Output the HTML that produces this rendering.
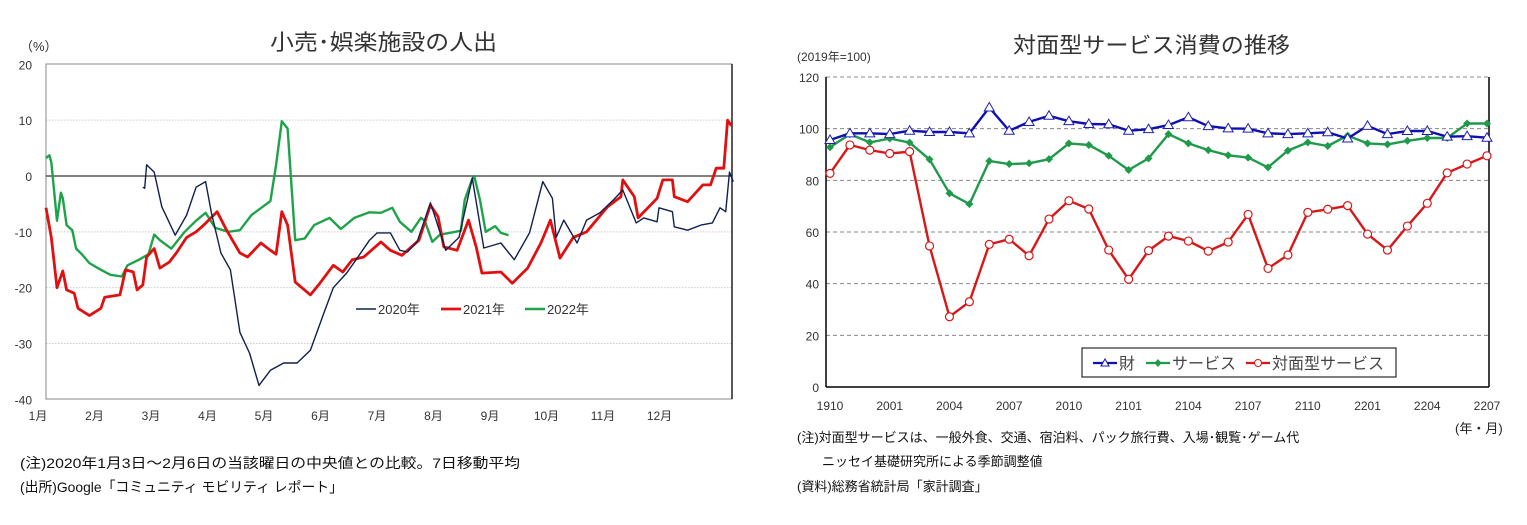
<!DOCTYPE html>
<html><head><meta charset="utf-8"><style>
body{margin:0;background:#fff;}
svg text{font-family:"Liberation Sans","Noto Sans CJK JP",sans-serif;}
</style></head><body>
<svg width="1527" height="520" viewBox="0 0 1527 520" xmlns="http://www.w3.org/2000/svg">
<g id="left"></g>
<g id="right"></g>
</svg>
<script>
// ---------- Left chart data ----------
const leftYTicks = [20,10,0,-10,-20,-30,-40];
const monthLabels = ['1月','2月','3月','4月','5月','6月','7月','8月','9月','10月','11月','12月'];
const days2020 = [55,56,57,61,65,72,78,83,88,91,96,101,106,111,116,122,129,136,143,150,155,162,167,174,178,185,190,194,199,206,209,214,221,228,234,243,250,258,265,270,272,276,283,288,295,302,307,314,318,325,326,333,334,341,348,354,358,361,363,365];
const vals2020 = [-2,-2.2,2,0.7,-5.5,-10.6,-7,-2,-1,-6.6,-13.8,-16.8,-28,-31.7,-37.5,-34.8,-33.5,-33.5,-31.2,-24.6,-20,-17.4,-15,-11.5,-10.2,-10.2,-13.3,-13.6,-11.8,-4.8,-7.9,-13.3,-11,-0.4,-12.9,-12,-15,-10.2,-1,-4,-11,-7.9,-12,-7.9,-6.6,-4.3,-2.5,-8.4,-7.5,-8.2,-5.7,-6.4,-9.1,-9.7,-8.8,-8.4,-5.7,-6.4,0.7,-1];
const days2021 = [4,7,10,13,15,19,21,27,33,35,43,46,50,52,55,57,61,64,69,73,78,83,87,94,99,106,110,117,122,125,128,131,135,143,148,155,160,165,171,180,185,191,200,206,210,213,220,226,230,233,243,249,257,264,269,274,281,288,299,306,307,313,315,325,328,333,334,341,349,353,356,360,362,364];
const vals2021 = [-5.7,-11,-20,-17,-20.4,-21,-23.7,-25,-23.7,-21.7,-21.3,-16.8,-17.2,-20.4,-19.5,-14.5,-13,-16.5,-15.4,-13.6,-11,-10,-8.8,-6.4,-9.7,-13.8,-14.5,-12,-13.3,-14,-6.4,-8.8,-19,-21.3,-19.2,-16,-17.2,-15,-14.5,-11.8,-13.3,-14.2,-11.5,-5.2,-7.3,-12.7,-13.3,-7.9,-12.7,-17.4,-17.2,-19.2,-16.5,-12,-7.9,-14.7,-11,-10,-5.5,-3.7,-0.7,-3.7,-7.5,-4,-0.7,-0.7,-3.7,-4.6,-1.6,-1.6,1.4,1.4,10,9];
const days2022 = [4,6,7,10,12,13,15,18,20,23,27,33,38,44,47,53,58,61,64,70,77,83,88,93,100,106,112,118,122,125,128,131,135,140,145,153,159,166,174,180,186,190,196,201,203,207,211,216,222,224,228,229,232,235,240,243,247];
const vals2022 = [3.2,3.7,2.5,-8,-3,-4,-8.8,-9.7,-13,-14,-15.6,-16.8,-17.7,-18,-16,-15,-14,-10.5,-11.5,-13,-10,-8,-6.6,-9.3,-10,-9.7,-7,-5.5,-4.5,2,9.8,8.5,-11.5,-11.2,-8.8,-7.5,-9.5,-7.5,-6.5,-6.6,-5.7,-8.2,-10,-7.5,-8,-11.8,-10.5,-10.2,-9.8,-4.3,-0.5,0,-4.3,-10,-9,-10.2,-10.6];

// ---------- Right chart data ----------
const rightCats = ['1910','1911','1912','2001','2002','2003','2004','2005','2006','2007','2008','2009','2010','2011','2012','2101','2102','2103','2104','2105','2106','2107','2108','2109','2110','2111','2112','2201','2202','2203','2204','2205','2206','2207'];
const rightYTicks = [0,20,40,60,80,100,120];
const goods = [95.6,98.2,98.2,97.9,99.2,98.7,98.7,98.2,108.2,99.2,102.6,105,102.9,101.8,101.7,99.2,99.8,101.4,104.4,101,100.1,100,98.2,97.9,98.2,98.6,96.2,101.1,97.9,99.1,99.1,96.9,97.1,96.5];
const services = [92.8,97.9,94.7,96.2,94.6,88.1,75,70.8,87.5,86.3,86.6,88.2,94.3,93.7,89.5,84,88.5,97.9,94.3,91.7,89.7,88.8,85,91.5,94.7,93.3,97.3,94.3,93.9,95.3,96.4,96.4,102,102];
const faceToFace = [82.7,93.7,91.7,90.4,91.1,54.6,27.2,33,55.2,57.2,50.8,65,72.1,68.9,53,41.7,52.8,58.4,56.5,52.6,56.1,66.8,45.9,51.1,67.6,68.8,70.2,59.2,53,62.3,71.1,82.9,86.3,89.5];

const NS='http://www.w3.org/2000/svg';
function mk(parent, tag, attrs, txt){
  const e=document.createElementNS(NS,tag);
  for(const k in attrs) e.setAttribute(k,attrs[k]);
  if(txt!==undefined) e.textContent=txt;
  parent.appendChild(e); return e;
}

// ---------- Left chart ----------
(function(){
  const g=document.getElementById('left');
  const X0=46,X1=732,Y0=64,Y1=399;
  const y=v=>176-v*5.583;
  const x=d=>Math.max(X0,38+d*1.905);
  let t=mk(g,'text',{x:270,y:50,'font-size':22,textLength:227,lengthAdjust:'spacingAndGlyphs',fill:'#333'},'小売･娯楽施設の人出');
   
  t=mk(g,'text',{x:20,y:51,'font-size':13,fill:'#333'},'（%）');
   
  leftYTicks.forEach(v=>{
    if(v!==0 && v!==20 && v!==-40){
      const gl=mk(g,'line',{x1:X0,x2:X1,y1:y(v),y2:y(v),stroke:'#ccc','stroke-dasharray':'1.5,1.5'});
       
    }
    const tl=mk(g,'text',{x:32,y:y(v)+5,'font-size':12,'text-anchor':'end',fill:'#333'},String(v));
     
  });
  const fr=mk(g,'rect',{x:X0,y:Y0,width:X1-X0,height:Y1-Y0,fill:'none',stroke:'#888','stroke-width':1});
   
  const rb=mk(g,'line',{x1:X1,x2:X1,y1:Y0,y2:Y1,stroke:'#222','stroke-width':1.5});
   
  const z=mk(g,'line',{x1:X0,x2:X1,y1:y(0),y2:y(0),stroke:'#000','stroke-width':1});
   
  monthLabels.forEach((m,i)=>{
    const ml=mk(g,'text',{x:38+56.5*i,y:420,'font-size':12,'text-anchor':'middle',fill:'#333'},m);
     
  });
  function series(days,vals,color,w,name){
    const p=mk(g,'polyline',{points:days.map((d,i)=>x(d).toFixed(1)+','+y(vals[i]).toFixed(1)).join(' '),fill:'none',stroke:color,'stroke-width':w,'stroke-linejoin':'round'});
     
  }
  series(days2022,vals2022,'#1fa34a',2.4,'line-2022');
  series(days2021,vals2021,'#e01010',2.8,'line-2021');
  series(days2020,vals2020,'#10204f',1.4,'line-2020');
  const leg=[['2020年','#10204f',1.4,356],['2021年','#e01010',2.8,441],['2022年','#1fa34a',2.4,525]];
  leg.forEach(l=>{
    const li=mk(g,'line',{x1:l[3],x2:l[3]+20,y1:309,y2:309,stroke:l[1],'stroke-width':l[2]});
     
    const lt=mk(g,'text',{x:l[3]+22,y:314,'font-size':13,fill:'#333'},l[0]);
     
  });
  t=mk(g,'text',{x:20,y:468,'font-size':14,textLength:500,lengthAdjust:'spacingAndGlyphs',fill:'#111'},'(注)2020年1月3日～2月6日の当該曜日の中央値との比較。7日移動平均');
   
  t=mk(g,'text',{x:20,y:492,'font-size':14,textLength:323,lengthAdjust:'spacingAndGlyphs',fill:'#111'},'(出所)Google「コミュニティ モビリティ レポート」');
   
})();

// ---------- Right chart ----------
(function(){
  const g=document.getElementById('right');
  const X0=826,X1=1489,Y0=77,Y1=387;
  const y=v=>Y1-v*(Y1-Y0)/120;
  const x=i=>830+i*(1487-830)/(rightCats.length-1);
  let t=mk(g,'text',{x:1013,y:53,'font-size':22,textLength:277,lengthAdjust:'spacingAndGlyphs',fill:'#333'},'対面型サービス消費の推移');
   
  t=mk(g,'text',{x:797,y:61,'font-size':12,fill:'#333'},'(2019年=100)');
   
  rightYTicks.forEach(v=>{
    if(v>0){
      const gl=mk(g,'line',{x1:X0,x2:X1,y1:y(v),y2:y(v),stroke:'#888','stroke-dasharray':'4,3'});
       
    }
    const tl=mk(g,'text',{x:819,y:y(v)+5,'font-size':12,'text-anchor':'end',fill:'#333'},String(v));
     
  });
  let a=mk(g,'line',{x1:X0,x2:X0,y1:Y0,y2:Y1,stroke:'#000','stroke-width':1.5});
   
  a=mk(g,'line',{x1:X1,x2:X1,y1:Y0,y2:Y1,stroke:'#000','stroke-width':1.5});
   
  a=mk(g,'line',{x1:X0,x2:X1,y1:Y1,y2:Y1,stroke:'#000','stroke-width':1.5});
   
  rightCats.forEach((c,i)=>{
    if(i%3===0){
      const tl=mk(g,'text',{x:x(i),y:410,'font-size':12,'text-anchor':'middle',fill:'#333'},c);
       
    }
  });
  function line(vals,color,name){
    const p=mk(g,'polyline',{points:vals.map((v,i)=>x(i).toFixed(1)+','+y(v).toFixed(1)).join(' '),fill:'none',stroke:color,'stroke-width':2.4,'stroke-linejoin':'round'});
     
  }
  line(faceToFace,'#d81818','face-to-face-line');
  faceToFace.forEach((v,i)=>{
    const c=mk(g,'circle',{cx:x(i),cy:y(v),r:4,fill:'#fff',stroke:'#d81818','stroke-width':1.2});
     
  });
  line(services,'#1f9a4a','services-line');
  services.forEach((v,i)=>{
    const cx=x(i),cy=y(v);
    const d=mk(g,'polygon',{points:`${cx},${cy-4} ${cx+4},${cy} ${cx},${cy+4} ${cx-4},${cy}`,fill:'#1f9a4a'});
     
  });
  line(goods,'#1010b0','goods-line');
  goods.forEach((v,i)=>{
    const cx=x(i),cy=y(v);
    const tr=mk(g,'polygon',{points:`${cx},${cy-5} ${cx+5},${cy+3.5} ${cx-5},${cy+3.5}`,fill:'#fff',stroke:'#2020b0','stroke-width':1});
     
  });
  const lb=mk(g,'rect',{x:1082,y:348,width:314,height:29,fill:'#fff',stroke:'#000','stroke-width':1});
   
  const legs=[['財','#1010b0',1093,'tri'],['サービス','#1f9a4a',1146,'dia'],['対面型サービス','#d81818',1246,'cir']];
  legs.forEach(l=>{
    const li=mk(g,'line',{x1:l[2],x2:l[2]+24,y1:363,y2:363,stroke:l[1],'stroke-width':2.2});
     
    const cx=l[2]+12;
    let m;
    if(l[3]==='tri') m=mk(g,'polygon',{points:`${cx},${359} ${cx+4},${366} ${cx-4},${366}`,fill:'#fff',stroke:l[1]});
    else if(l[3]==='dia') m=mk(g,'polygon',{points:`${cx},359 ${cx+3.5},363 ${cx},367 ${cx-3.5},363`,fill:l[1]});
    else m=mk(g,'circle',{cx:cx,cy:363,r:3.5,fill:'#fff',stroke:l[1]});
     
    const lt=mk(g,'text',{x:l[2]+26,y:369,'font-size':16,fill:'#444'},l[0]);
     
  });
  t=mk(g,'text',{x:1455,y:433,'font-size':13,fill:'#222'},'(年・月)');
   
  t=mk(g,'text',{x:797,y:442,'font-size':13,fill:'#111'},'(注)対面型サービスは、一般外食、交通、宿泊料、パック旅行費、入場･観覧･ゲーム代');
   
  t=mk(g,'text',{x:822,y:466,'font-size':13,fill:'#111'},'ニッセイ基礎研究所による季節調整値');
   
  t=mk(g,'text',{x:797,y:491,'font-size':13,fill:'#111'},'(資料)総務省統計局「家計調査」');
   
})();
</script>
</body></html>
